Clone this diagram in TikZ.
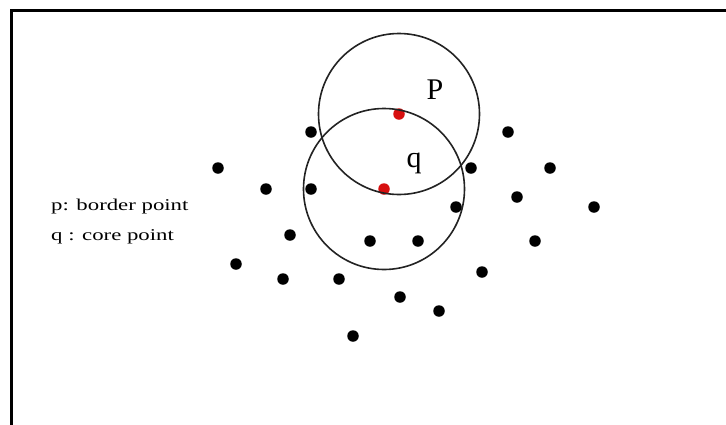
\documentclass[tikz,border=0pt]{standalone}
\usepackage{fontspec}
\setmainfont{Liberation Serif}
\usepackage{graphicx}
\definecolor{ptred}{RGB}{215,15,15}
\definecolor{ringgray}{RGB}{35,35,35}
\begin{document}
\begin{tikzpicture}[x=1pt,y=-1pt,
  dot/.style={circle,fill=black,inner sep=0pt,minimum size=11.5pt},
  reddot/.style={circle,fill=ptred,inner sep=0pt,minimum size=11.5pt},
  ring/.style={draw=ringgray,line width=1.6pt},
  frame/.style={draw=black,line width=2.6pt},
  biglabel/.style={font=\fontsize{30}{30}\selectfont,inner sep=0pt},
  legend/.style={anchor=base west,inner sep=0pt,font=\fontsize{16.5}{18}\selectfont}]
\useasboundingbox (0,0) rectangle (726,424);
% frame (top and left edges; it runs off the right and bottom)
\coordinate (fbl) at (11.5,430);
\coordinate (ftl) at (11.5,10.5);
\coordinate (ftr) at (732,10.5);
\draw[frame] (fbl) -- (ftl) -- (ftr);
% red points
\node[reddot] (p) at (399,114) {};
\node[reddot] (q) at (384,189) {};
% eps-neighbourhoods
\draw[ring] (p.center) circle (80.5pt);
\draw[ring] (q.center) circle (80.5pt);
% labels
\node[biglabel] (lp) at (435,90) {P};
\node[biglabel] (lq) at (414,163) {q};
% black points
\node[dot] (d1) at (311,132) {};
\node[dot] (d2) at (508,132) {};
\node[dot] (d3) at (218,168) {};
\node[dot] (d4) at (471,168) {};
\node[dot] (d5) at (550,168) {};
\node[dot] (d6) at (266,189) {};
\node[dot] (d7) at (311,189) {};
\node[dot] (d8) at (517,197) {};
\node[dot] (d9) at (456,207) {};
\node[dot] (d10) at (594,207) {};
\node[dot] (d11) at (290,235) {};
\node[dot] (d12) at (370,241) {};
\node[dot] (d13) at (418,241) {};
\node[dot] (d14) at (535,241) {};
\node[dot] (d15) at (236,264) {};
\node[dot] (d16) at (283,279) {};
\node[dot] (d17) at (339,279) {};
\node[dot] (d18) at (482,272) {};
\node[dot] (d19) at (400,297) {};
\node[dot] (d20) at (439,311) {};
\node[dot] (d21) at (353,336) {};
% legend
\node[legend] (lg1) at (51,210) {\scalebox{1.38}[1]{p: border point}};
\node[legend] (lg2) at (51,240) {\scalebox{1.38}[1]{q : core point}};
\end{tikzpicture}
\end{document}
